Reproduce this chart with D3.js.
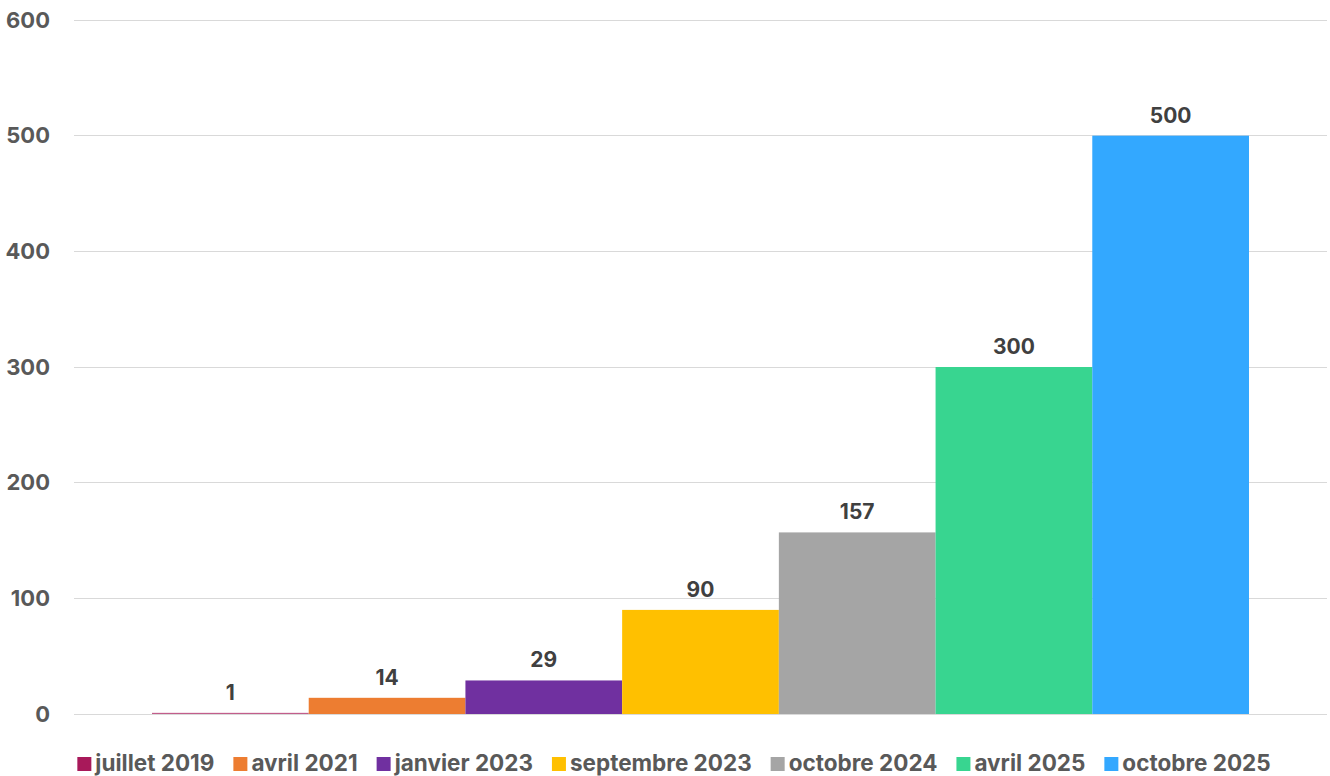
<!DOCTYPE html>
<html><head><meta charset="utf-8">
<script src="https://cdn.jsdelivr.net/npm/d3@7"></script>
<style>body{margin:0;background:#fff;}svg{display:block;font-family:Inter,"Noto Sans",sans-serif;}</style>
</head><body><svg id="c" width="1330" height="776"></svg>
<script>
const categories = ["juillet 2019","avril 2021","janvier 2023","septembre 2023","octobre 2024","avril 2025","octobre 2025"];
const values = [1,14,29,90,157,300,500];
const colors = ["#A8195A","#ED7D31","#7030A0","#FFC000","#A5A5A5","#38D590","#33A8FF"];
const yTicks = [0,100,200,300,400,500,600];

const svg = d3.select("#c");
const L = 74, R = 1327, T = 20, B = 714;
const y = d3.scaleLinear().domain([0,600]).range([B,T]);
const x = d3.scaleBand().domain(categories).range([152,1249]).padding(0);

svg.append("g").selectAll("line").data(yTicks).join("line")
  .attr("x1",L).attr("x2",R).attr("y1",d=>y(d)).attr("y2",d=>y(d))
  .attr("stroke","#d9d9d9").attr("stroke-width",1).attr("shape-rendering","crispEdges");

const yAxis = d3.axisLeft(y).tickValues(yTicks).tickSize(0).tickPadding(0);
const ga = svg.append("g").attr("transform","translate(50,0)").call(yAxis);
ga.select(".domain").remove();
ga.selectAll("text").attr("fill","#595959").attr("font-size",22).attr("font-weight",700)
  .attr("font-family","Inter,'Noto Sans',sans-serif");

svg.append("g").selectAll("rect").data(values).join("rect")
  .attr("x",(d,i)=>x(categories[i])).attr("width",x.bandwidth())
  .attr("y",d=>y(d)).attr("height",d=>B-y(d))
  .attr("fill",(d,i)=>colors[i]).attr("fill-opacity",(d,i)=>i===0?0.7:1);

svg.append("g").selectAll("text").data(values).join("text")
  .attr("x",(d,i)=>x(categories[i])+x.bandwidth()/2).attr("y",d=>y(d)-13)
  .attr("text-anchor","middle").attr("fill","#404040").attr("font-size",21).attr("font-weight",700)
  .text(d=>d);

const lg = svg.append("g");
const items = lg.selectAll("g").data(categories).join("g");
items.append("rect").attr("width",14).attr("height",14).attr("y",-14).attr("fill",(d,i)=>colors[i]);
items.append("text").attr("x",18).attr("y",0).attr("fill","#595959").attr("font-size",22.5).attr("font-weight",700)
  .text(d=>d);
const gap = 19;
let cx = 0; const pos=[];
items.each(function(){ pos.push(cx); cx += 18 + this.querySelector("text").getComputedTextLength() + gap; });
const total = cx - gap;
const start = 674 - total/2;
items.attr("transform",(d,i)=>`translate(${start+pos[i]},771)`);
</script></body></html>
